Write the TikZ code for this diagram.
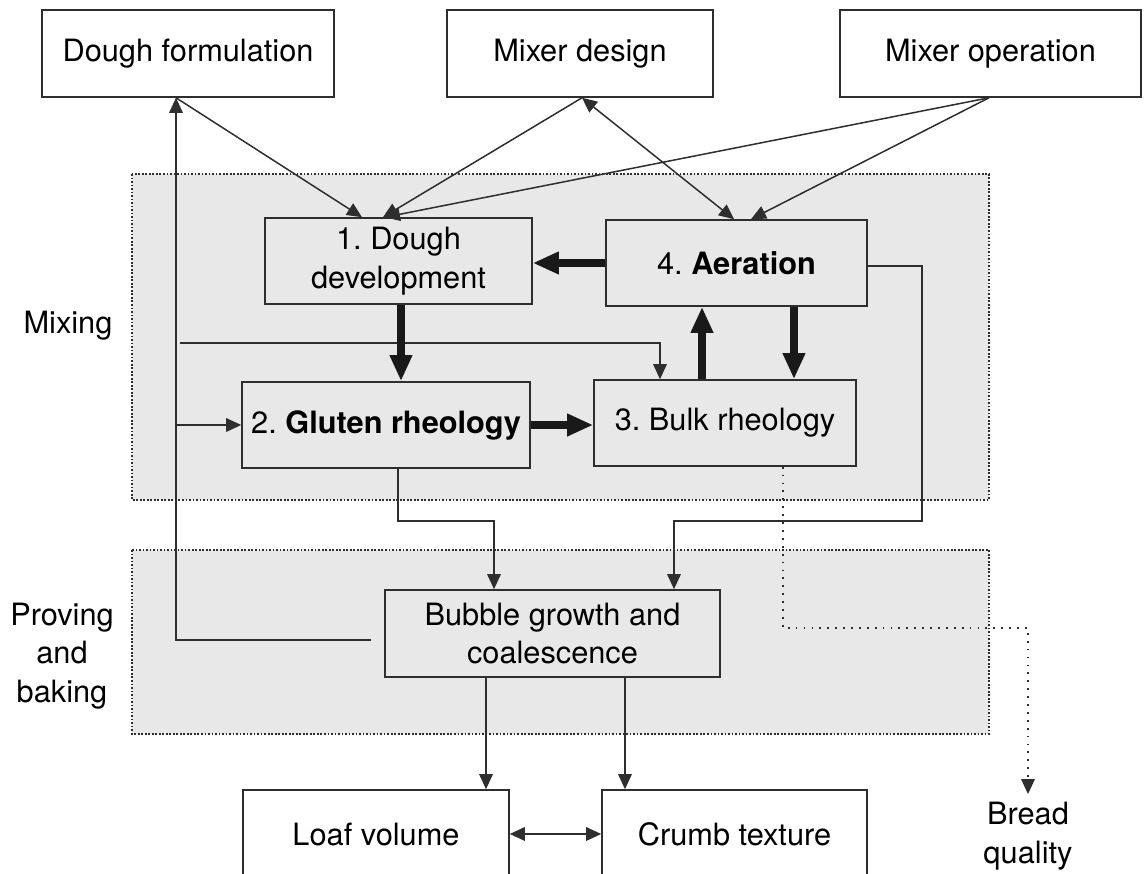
\documentclass[tikz,border=0pt]{standalone}
\usepackage{fontspec}
\setmainfont{TeX Gyre Heros}
\usetikzlibrary{arrows.meta}
\definecolor{regiongray}{gray}{0.91}
\definecolor{linegray}{gray}{0.18}
\frenchspacing
\begin{document}
\begin{tikzpicture}[x=0.02cm, y=-0.02cm, line width=0.85pt, draw=linegray,
  font=\fontsize{17.5pt}{22pt}\selectfont,
  box/.style = {draw=linegray, line width=0.9pt, minimum height=1.74cm, inner sep=2pt, align=center},
  region/.style = {draw=linegray, fill=regiongray, line width=1pt, dash pattern=on 1pt off 1pt},
  arr/.style = {-{Triangle[length=0.3cm, width=0.27cm]}, linegray},
  biarr/.style = {{Triangle[length=0.3cm, width=0.27cm]}-{Triangle[length=0.3cm, width=0.27cm]}, linegray},
  bold/.style = {-{Triangle[length=0.52cm, width=0.42cm]}, line width=4.8pt, black!90},
  dotarr/.style = {-{Triangle[length=0.3cm, width=0.27cm]}, linegray, line width=0.9pt, dash pattern=on 1pt off 3.5pt}]
\clip (0,0) rectangle (1144,874);
\fill[white] (0,0) rectangle (1144,874);
\draw[region] (132,174) rectangle (989,500);
\draw[region] (132,550) rectangle (989,734);
\node (mixing) at (68,326) {Mixing};
\node[align=center] (proving) at (62,656) {Proving\\and\\baking};
\node[box, fill=white, minimum width=5.84cm] (formulation) at (188,53.5) {Dough formulation};
\node[box, fill=white, minimum width=5.32cm] (design) at (580,53.5) {Mixer design};
\node[box, fill=white, minimum width=6.02cm] (operation) at (990.5,53.5) {Mixer operation};
\node[box, minimum width=5.34cm, minimum height=1.72cm] (develop) at (398.5,261) {1. Dough\\development};
\node[box, minimum width=5.22cm, minimum height=1.72cm] (aeration) at (736.5,263) {4. \textbf{Aeration}};
\node[box, minimum width=5.76cm, minimum height=1.72cm] (gluten) at (386,425) {2. \textbf{Gluten rheology}};
\node[box, minimum width=5.24cm, minimum height=1.72cm] (bulk) at (725,423) {3. Bulk rheology};
\node[box, minimum width=6.7cm] (bubble) at (552.5,633.5) {Bubble growth and\\coalescence};
\node[box, fill=white, minimum width=5.32cm, minimum height=1.76cm] (loaf) at (376,834) {Loaf volume};
\node[box, fill=white, minimum width=5.3cm, minimum height=1.76cm] (crumb) at (734.5,834) {Crumb texture};
\node[align=center, inner sep=3pt] (quality) at (1028,836) {Bread\\quality};
\coordinate (fbend) at (371,640);
\coordinate (fb) at (176,640);
\coordinate (br) at (180,343);
\coordinate (bk) at (660,343);
\coordinate (ae1) at (922,521);
\coordinate (ae2) at (674,521);
\coordinate (gl2) at (494,521);
\coordinate (bq) at (1028,628);
\draw[arr] (fbend) -- (fb) -- (formulation.south -| fb);
\draw[arr] (fb |- gluten.west) -- (gluten.west);
\draw[arr] (br) -- (bk) -- (bk |- bulk.north);
\draw[arr] (formulation.south -| fb) -- ([xshift=-0.73cm]develop.north);
\draw[arr] ([xshift=0.04cm]design.south) -- ([xshift=-0.31cm]develop.north);
\draw[biarr] ([xshift=0.04cm]design.south) -- ([xshift=-0.05cm]aeration.north);
\draw[arr] ([xshift=-0.03cm]operation.south) -- ([xshift=-0.27cm]develop.north);
\draw[arr] ([xshift=-0.03cm]operation.south) -- ([xshift=0.29cm]aeration.north);
\draw[bold] (aeration.west) -- (aeration.west -| develop.east);
\draw[bold] ([xshift=0.05cm]develop.south) coordinate (d1) -- (d1 |- gluten.north);
\draw[bold] (gluten.east) -- (gluten.east -| bulk.west);
\draw[bold] ([xshift=-0.46cm]bulk.north) coordinate (b1) -- (b1 |- aeration.south);
\draw[bold] ([xshift=1.15cm]aeration.south) coordinate (a1) -- (a1 |- bulk.north);
\draw[arr] ([yshift=-0.06cm]aeration.east) -| (ae1) -- (ae2) -- (ae2 |- bubble.north);
\draw[arr] ([xshift=0.24cm]gluten.south) |- (gl2) -- (gl2 |- bubble.north);
\draw[dotarr] ([xshift=1.16cm]bulk.south) |- (bq) -- ([yshift=0.04cm]quality.north);
\draw[arr] ([xshift=-1.33cm]bubble.south) coordinate (s1) -- (s1 |- loaf.north);
\draw[arr] ([xshift=1.45cm]bubble.south) coordinate (s2) -- (s2 |- crumb.north);
\draw[biarr] (loaf.east) -- (crumb.west);
\end{tikzpicture}
\end{document}
